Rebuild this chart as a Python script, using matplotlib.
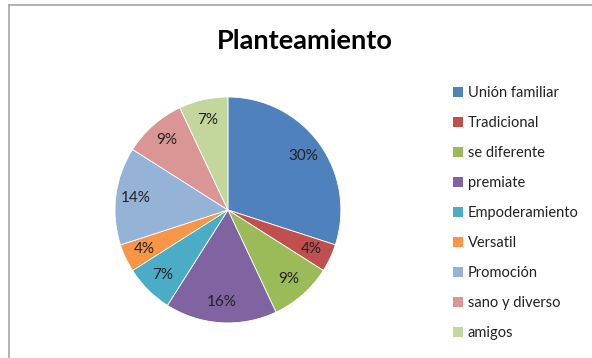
import matplotlib.pyplot as plt
from matplotlib.patches import Patch
from matplotlib.lines import Line2D

# Chart data
labels = ["Unión familiar", "Tradicional", "se diferente", "premiate",
          "Empoderamiento", "Versatil", "Promoción", "sano y diverso", "amigos"]
values = [30, 4, 9, 16, 7, 4, 14, 9, 7]
colors = ["#4F81BD", "#C0504D", "#9BBB59", "#8064A2", "#4BACC6",
          "#F79646", "#95B3D7", "#D99694", "#C3D69B"]

plt.rcParams['font.family'] = ['Lato', 'DejaVu Sans']

fig = plt.figure(figsize=(5.92, 3.58), dpi=100)
ax = fig.add_axes([0.194, 0.098, 0.382, 0.631])

wedges, texts, autotexts = ax.pie(
    values, colors=colors, startangle=90, counterclock=False,
    autopct='%1.0f%%', pctdistance=0.82,
    wedgeprops=dict(edgecolor='white', linewidth=0.6),
    textprops=dict(color='#222222', fontsize=11))
ax.set_xlim(-1, 1)
ax.set_ylim(-1, 1)
ax.set_aspect('equal')

# Title
fig.text(0.515, 0.885, "Planteamiento", ha='center', va='center',
         fontsize=19.5, fontweight='bold', color='black')

# Legend
handles = [Patch(facecolor=c, edgecolor='none') for c in colors]
leg = fig.legend(handles, labels, loc='upper left', bbox_to_anchor=(0.753, 0.78),
                 frameon=False, fontsize=10.5, handlelength=0.7, handleheight=0.7,
                 handletextpad=0.3, labelspacing=1.1, borderpad=0)
for t in leg.get_texts():
    t.set_color('#222222')

# Chart border (left and top edges visible)
fig.add_artist(Line2D([0.0155, 0.0155], [0, 0.986], transform=fig.transFigure,
                      color='#a6a6a6', linewidth=1.2))
fig.add_artist(Line2D([0.0155, 1.0], [0.986, 0.986], transform=fig.transFigure,
                      color='#a6a6a6', linewidth=1.2))

plt.savefig("out.png", dpi=100)
plt.close()
